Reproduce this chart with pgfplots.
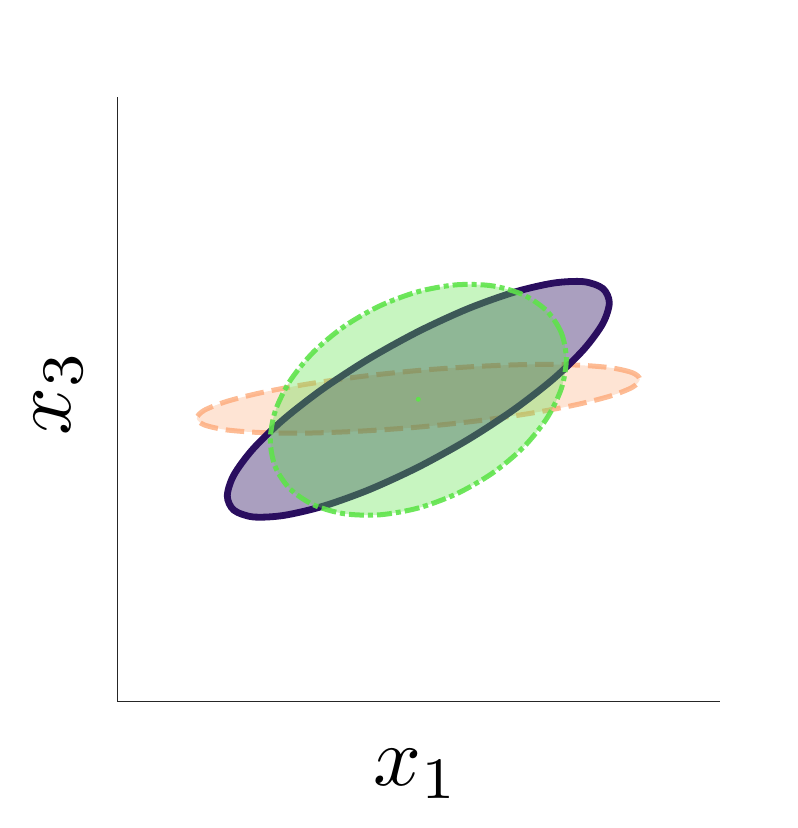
\documentclass[border=0pt]{standalone}
\usepackage{graphicx}
\usepackage{pgfplots}
\pgfplotsset{compat=1.18}

\definecolor{ellpurple}{HTML}{2A0E5F}
\definecolor{ellorange}{HTML}{FCA572}
\definecolor{ellgreen}{HTML}{5EE34A}
\definecolor{axgray}{HTML}{262626}

\begin{document}
\begin{tikzpicture}
\begin{axis}[
  at={(0,0)}, anchor=south west,
  scale only axis,
  width=301.2pt, height=302.3pt,
  xmin=0, xmax=602.4, ymin=0, ymax=604.6,
  axis x line*=bottom, axis y line*=left,
  axis line style={axgray, line width=0.65pt},
  ticks=none,
  xlabel={\scalebox{4.2}{$x_1$}}, ylabel={\scalebox{4.2}{$x_3$}},
  label style={text=axgray},
  every axis x label/.style={at={(axis description cs:0.497,-0.12)}, anchor=center},
  every axis y label/.style={at={(axis description cs:-0.098,0.51)}, anchor=center, rotate=90},
]
% dashed ellipse (drawn first, lies underneath)
\addplot[smooth cycle, draw=ellorange, draw opacity=0.75, line width=2.5pt,
  dash pattern=on 9.25pt off 4pt, fill=ellorange, fill opacity=0.3]
  coordinates {
  (522.5,322.0) (515.0,328.6) (492.8,333.6) (457.6,336.3) (411.8,336.8) (358.3,334.8)
  (301,330.8) (243.7,324.8) (190.2,317.25) (144.4,308.7) (109.2,299.8) (87.0,291.0)
  (79.5,283.0) (87.0,276.4) (109.2,271.4) (144.4,268.7) (190.2,268.2) (243.7,270.2)
  (301,274.2) (358.3,280.2) (411.8,287.75) (457.6,296.3) (492.8,305.2) (515.0,314.0)};
% solid ellipse
\addplot[smooth cycle, draw=ellpurple, line width=3.4pt, fill=ellpurple, fill opacity=0.4]
  coordinates {
  (492,398.6) (485.5,412.8) (466.4,419.6) (436.1,418.2) (396.5,409.0) (350.4,392.5)
  (301,369.8) (251.6,342.5) (205.5,312.4) (165.9,281.6) (135.6,252.2) (116.5,226.2)
  (110,205.4) (116.5,191.2) (135.6,184.4) (165.9,185.8) (205.5,195.0) (251.6,211.5)
  (301,234.2) (350.4,261.5) (396.5,291.6) (436.1,322.4) (466.4,351.8) (485.5,377.8)};
% dash-dotted ellipse
\addplot[smooth cycle, draw=ellgreen, draw opacity=0.9, line width=2.5pt,
  dash pattern=on 7.5pt off 2pt on 2.5pt off 2pt, fill=ellgreen, fill opacity=0.35]
  coordinates {
  (449,342.0) (444.0,368.6) (429.2,390.7) (405.7,406.6) (375.0,415.45) (339.3,416.5)
  (301,409.7) (262.7,395.5) (227.0,374.95) (196.3,349.4) (172.8,320.5) (158.0,290.4)
  (153,261.0) (158.0,234.4) (172.8,212.3) (196.3,196.4) (227.0,187.55) (262.7,186.5)
  (301,193.3) (339.3,207.5) (375.0,228.05) (405.7,253.6) (429.2,282.5) (444.0,312.6)};
% centre
\addplot[only marks, mark=*, mark size=1pt, color=ellgreen] coordinates {(301,302)};
\end{axis}
\path[use as bounding box] (-58.65pt,-63.35pt) rectangle (339.85pt,350.65pt);
\end{tikzpicture}
\end{document}
